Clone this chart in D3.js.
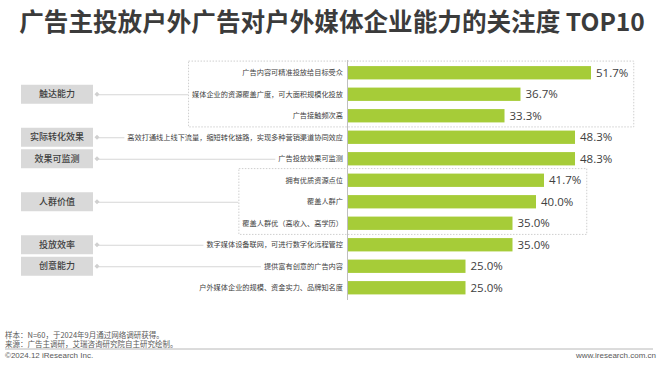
<!DOCTYPE html>
<html><head><meta charset="utf-8">
<script src="https://cdn.jsdelivr.net/npm/d3@7"></script>
<style>html,body{margin:0;padding:0;background:#fff;}svg{display:block;}</style>
</head><body>
<svg id="c" width="660" height="365"></svg>
<script>
const items = [
  "广告内容可精准投放给目标受众",
  "媒体企业的资源覆盖广度，可大面积规模化投放",
  "广告接触频次高",
  "高效打通线上线下流量，缩短转化链路，实现多种营销渠道协同效应",
  "广告投放效果可监测",
  "拥有优质资源点位",
  "覆盖人群广",
  "覆盖人群优（高收入、高学历）",
  "数字媒体设备联网，可进行数字化远程管控",
  "提供富有创意的广告内容",
  "户外媒体企业的规模、资金实力、品牌知名度"
];
const values = [51.7, 36.7, 33.3, 48.3, 48.3, 41.7, 40.0, 35.0, 35.0, 25.0, 25.0];
const groups = ["触达能力", "实际转化效果", "效果可监测", "人群价值", "投放效率", "创意能力"];
const groupStart = [0, 3, 4, 5, 8, 9];
const groupEnd = [2, 3, 4, 7, 8, 9];
const title = "广告主投放户外广告对户外媒体企业能力的关注度 TOP10";
const notes = ["样本：N=60，于2024年9月通过网络调研获得。", "来源：广告主调研，艾瑞咨询研究院自主研究绘制。"];
const copyright = "©2024.12 iResearch Inc.";
const site = "www.iresearch.com.cn";

const FONT = "'Noto Sans CJK SC','Noto Sans',sans-serif";
const svg = d3.select("#c");
const x = d3.scaleLinear().domain([0, 60]).range([348, 348 + 282]);
const y = d3.scaleBand().domain(d3.range(items.length)).range([62, 298.5]).paddingInner(0.38).paddingOuter(0.19);
const bw = y.bandwidth();
const cy = i => y(i) + bw / 2;

// title
svg.append("text").attr("x", 332).attr("y", 31).attr("text-anchor", "middle")
  .attr("font-family", FONT).attr("font-weight", 700).attr("font-size", 24.6)
  .attr("fill", "#3b3b3b").text(title);

// item labels
const labels = svg.append("g").selectAll("text").data(items).join("text")
  .attr("x", 343).attr("y", (d, i) => cy(i)).attr("dy", "0.36em")
  .attr("text-anchor", "end").attr("font-family", FONT).attr("font-size", 7.2)
  .attr("fill", "#404040").text(d => d);
const labelStart = [];
labels.each(function (d, i) { labelStart[i] = 343 - this.getComputedTextLength(); });

// bars
svg.append("g").selectAll("rect").data(values).join("rect")
  .attr("x", x(0)).attr("y", (d, i) => y(i)).attr("width", d => x(d) - x(0)).attr("height", bw)
  .attr("fill", "#a6cc38");

// value labels
const vals = svg.append("g").selectAll("text").data(values).join("text")
  .attr("x", d => x(d) + 5).attr("y", (d, i) => cy(i)).attr("dy", "0.36em")
  .attr("font-family", "'Open Sans','Noto Sans',sans-serif").attr("font-size", 11.5)
  .attr("fill", "#404040").text(d => d.toFixed(1) + "%");
const valEnd = [];
vals.each(function (d, i) { valEnd[i] = x(d) + 5 + this.getComputedTextLength(); });

// axis line
svg.append("line").attr("x1", x(0) - 0.5).attr("x2", x(0) - 0.5).attr("y1", 60).attr("y2", 300)
  .attr("stroke", "#bfbfbf").attr("stroke-width", 1);

// groups
groups.forEach((g, k) => {
  const s = groupStart[k], e = groupEnd[k];
  const gc = (cy(s) + cy(e)) / 2;
  let target;
  if (e > s) {
    const left = d3.min(d3.range(s, e + 1), i => labelStart[i]) - 4;
    const right = d3.max(d3.range(s, e + 1), i => valEnd[i]) + 5;
    const top = y(s) - 5.5, bot = y(e) + bw + 4;
    svg.append("rect").attr("x", left + 0.5).attr("y", top + 0.5)
      .attr("width", right - left).attr("height", bot - top)
      .attr("fill", "none").attr("stroke", "#cfcfcf").attr("stroke-dasharray", "1.5,1.5");
    target = left;
  } else {
    target = labelStart[s] - 3;
  }
  svg.append("line").attr("x1", 97).attr("x2", target).attr("y1", gc + 0.5).attr("y2", gc + 0.5)
    .attr("stroke", "#d6d6d6").attr("stroke-width", 1);
  svg.append("path").attr("d", `M97,${gc - 2.5}L99.5,${gc}L97,${gc + 2.5}L94.5,${gc}Z`)
    .attr("fill", "#d0d0d0");
  svg.append("rect").attr("x", 21).attr("y", gc - 9.5).attr("width", 72).attr("height", 19)
    .attr("fill", "#d9d9d9");
  svg.append("text").attr("x", 57).attr("y", gc).attr("dy", "0.36em").attr("text-anchor", "middle")
    .attr("font-family", FONT).attr("font-size", 9).attr("font-weight", 500)
    .attr("fill", "#404040").text(g);
});

// footer
svg.append("text").attr("x", 5).attr("y", 337.5).attr("font-family", FONT).attr("font-size", 7.5)
  .attr("fill", "#595959").text(notes[0]);
svg.append("text").attr("x", 5).attr("y", 347.3).attr("font-family", FONT).attr("font-size", 7.5)
  .attr("fill", "#595959").text(notes[1]);
svg.append("line").attr("x1", 5).attr("x2", 653).attr("y1", 349).attr("y2", 349)
  .attr("stroke", "#a6a6a6").attr("stroke-width", 0.8);
svg.append("text").attr("x", 5).attr("y", 357.5).attr("font-family", "'Liberation Sans',Arial,sans-serif").attr("font-size", 8)
  .attr("fill", "#595959").text(copyright);
svg.append("text").attr("x", 656).attr("y", 357.5).attr("text-anchor", "end").attr("font-family", "'Liberation Sans',Arial,sans-serif").attr("font-size", 8)
  .attr("fill", "#595959").text(site);
</script>
</body></html>
